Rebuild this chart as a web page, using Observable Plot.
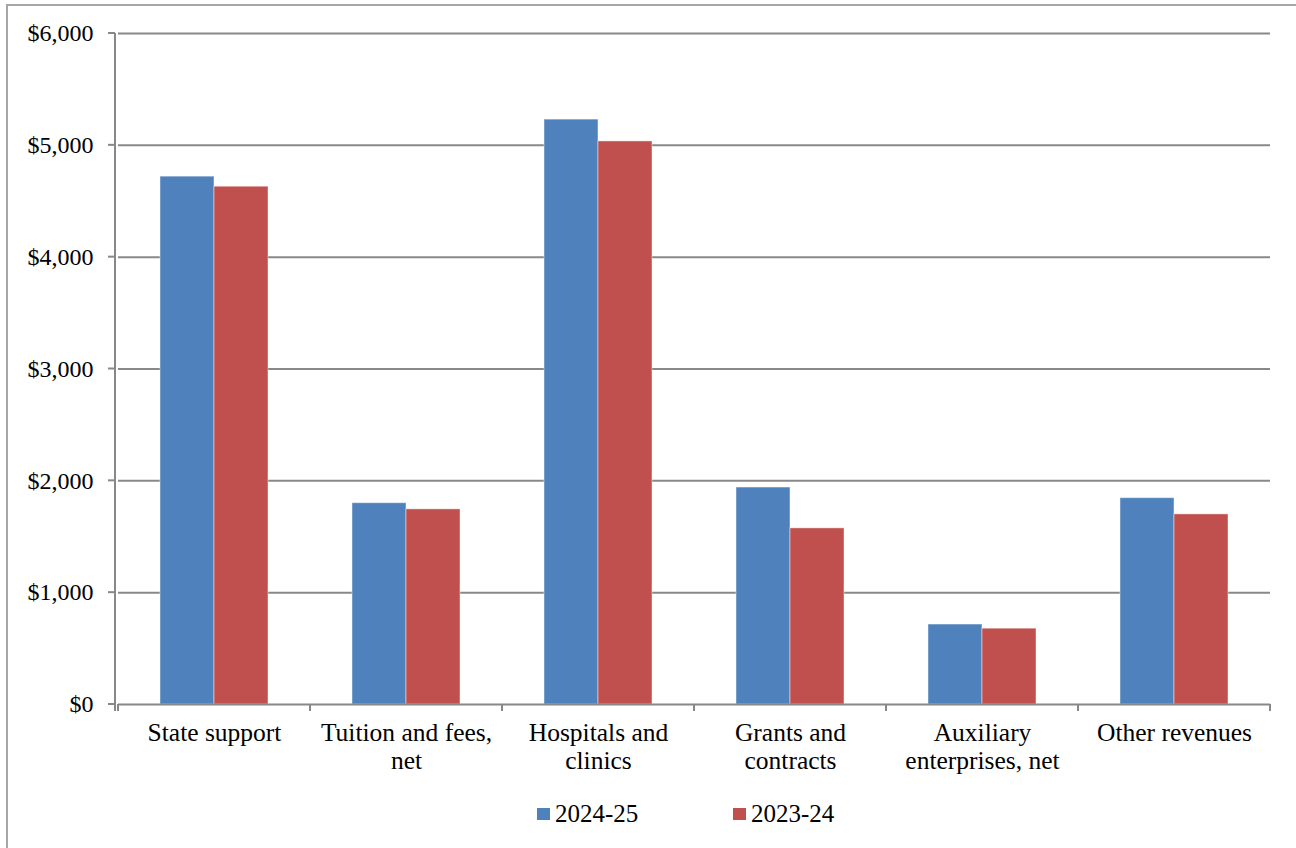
<!DOCTYPE html>
<html>
<head>
<meta charset="utf-8">
<script src="https://cdn.jsdelivr.net/npm/d3@7"></script>
<script src="https://cdn.jsdelivr.net/npm/@observablehq/plot@0.6"></script>
<style>
  html, body { margin: 0; padding: 0; background: #fff; }
  #frame {
    position: absolute; left: 6px; top: 4px; width: 1300px; height: 860px;
    border: 2px solid #a6a6a6; box-sizing: border-box;
  }
  #chart { position: absolute; left: 0; top: 0; }
  #chart svg text { font-family: "Liberation Serif", "Times New Roman", serif !important; fill: #000; font-size: 24px; }
  #chart svg g.catlabels text { font-size: 25.5px; }
  #legend {
    position: absolute; left: 0; top: 800px; width: 1296px;
    font-family: "Liberation Serif", "Times New Roman", serif; font-size: 25px; color: #000;
  }
  .item { position: absolute; top: 0; display: flex; align-items: center; }
  .sw { width: 13px; height: 12px; margin-right: 5px; }
</style>
</head>
<body>
<div id="frame"></div>
<div id="chart"></div>
<div id="legend"></div>
<script>
const categories = ["State support", "Tuition and fees, net", "Hospitals and clinics", "Grants and contracts", "Auxiliary enterprises, net", "Other revenues"];
const categoryLabels = ["State support", "Tuition and fees,\nnet", "Hospitals and\nclinics", "Grants and\ncontracts", "Auxiliary\nenterprises, net", "Other revenues"];
const seriesNames = ["2024-25", "2023-24"];
const values2024_25 = [4720, 1800, 5230, 1940, 715, 1845];
const values2023_24 = [4630, 1745, 5035, 1575, 678, 1700];
const colors = ["#4F81BD", "#C0504D"];
const yTicks = [0, 1000, 2000, 3000, 4000, 5000, 6000];

const data = [];
categories.forEach((c, i) => {
  data.push({category: c, series: seriesNames[0], value: values2024_25[i]});
  data.push({category: c, series: seriesNames[1], value: values2023_24[i]});
});
const labelOf = new Map(categories.map((c, i) => [c, categoryLabels[i]]));

const boundaryTicks = (index, scales, values, dimensions) => {
  const g = d3.create("svg:g");
  const [r0, r1] = scales.x.range();
  const y0 = scales.y(0);
  for (const xx of [r0, r1]) {
    g.append("line").attr("x1", xx).attr("x2", xx).attr("y1", y0).attr("y2", y0 + 7)
      .attr("stroke", "#888").attr("stroke-width", 2);
  }
  return g.node();
};

const chart = Plot.plot({
  width: 1296,
  height: 790,
  marginLeft: 115,
  marginRight: 24,
  marginTop: 33,
  marginBottom: 86,
  style: {fontFamily: "'Liberation Serif', 'Times New Roman', serif", fontSize: "24px", color: "#000", background: "transparent"},
  fx: {domain: categories, padding: 0, label: null, axis: null},
  x: {domain: seriesNames, paddingInner: 0, paddingOuter: 0.75, axis: null},
  y: {domain: [0, 6000], ticks: yTicks, tickSize: 0, tickPadding: 25, label: null, tickFormat: d => "$" + d3.format(",")(d)},
  color: {domain: seriesNames, range: colors},
  marks: [
    Plot.ruleY(yTicks.slice(1), {stroke: "#888", strokeWidth: 2, strokeOpacity: 1}),
    Plot.barY(data, {fx: "category", x: "series", y: "value", fill: "series", stroke: "#fff", strokeOpacity: 0.45, strokeWidth: 1}),
    Plot.ruleY([0], {stroke: "#888", strokeWidth: 2, strokeOpacity: 1}),
    Plot.text(categories, {fx: d => d, text: d => labelOf.get(d), frameAnchor: "bottom", lineAnchor: "top", dy: 16, lineHeight: 1.12, fontSize: 25.5, fill: "#000"}),
    boundaryTicks
  ]
});
document.getElementById("chart").appendChild(chart);

const svg = d3.select(chart);
// mark category label groups so the stylesheet keeps their larger size
svg.selectAll("text").filter(function () { return categoryLabels.includes(this.textContent) || this.querySelector("tspan"); })
  .each(function () { this.parentNode.classList.add("catlabels"); });

// y axis line and left ticks
const yS = chart.scale("y");
const yAxisG = svg.append("g");
yAxisG.append("line").attr("x1", 115).attr("x2", 115).attr("y1", yS.apply(6000)).attr("y2", yS.apply(0) + 7)
  .attr("stroke", "#888").attr("stroke-width", 2);
for (const t of yTicks) {
  yAxisG.append("line").attr("x1", 108).attr("x2", 115).attr("y1", yS.apply(t)).attr("y2", yS.apply(t))
    .attr("stroke", "#888").attr("stroke-width", 2);
}

// legend
const legend = document.getElementById("legend");
const legendX = [537, 733];
seriesNames.forEach((s, i) => {
  const it = document.createElement("div");
  it.className = "item";
  it.style.left = legendX[i] + "px";
  it.innerHTML = `<div class="sw" style="background:${colors[i]}"></div><span>${s}</span>`;
  legend.appendChild(it);
});
</script>
</body>
</html>
